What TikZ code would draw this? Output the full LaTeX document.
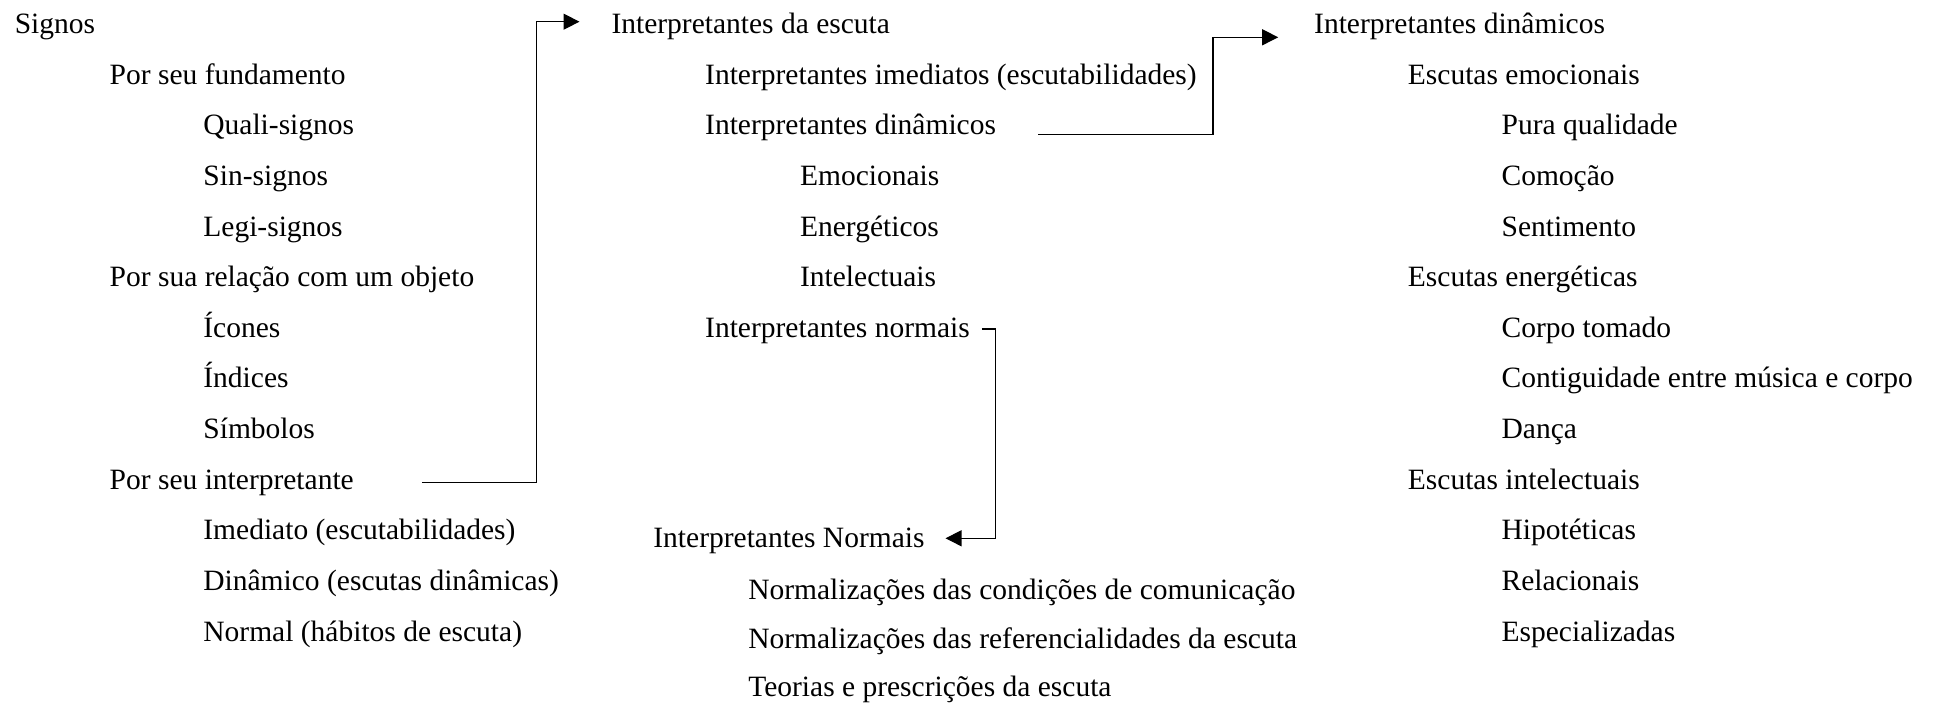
\documentclass[tikz,border=0pt]{standalone}
\usepackage{fontspec}
\setmainfont{Liberation Serif}
\usetikzlibrary{arrows.meta}
\begin{document}
\begin{tikzpicture}[x=0.5pt,y=-0.5pt,
  every node/.style={inner sep=0pt,outer sep=0pt,anchor=base west,font=\fontsize{14.75pt}{17pt}\selectfont},
  conn/.style={line width=0.6pt},
  arr/.style={conn,-{Triangle[length=8pt,width=8pt]}}]
\useasboundingbox (0,0) rectangle (1933,704);
% left column
\node (signos) at (14.8,33.5) {Signos};
\node (fund) at (109.7,84.1) {Por seu fundamento};
\node (quali) at (203.4,134.8) {Quali-signos};
\node (sin) at (203.4,185.4) {Sin-signos};
\node (legi) at (203.4,236.1) {Legi-signos};
\node (rel) at (109.7,286.7) {Por sua relação com um objeto};
\node (icones) at (203.4,337.3) {Ícones};
\node (indices) at (203.4,388) {Índices};
\node (simb) at (203.4,438.6) {Símbolos};
\node (pinterp) at (109.7,489.3) {Por seu interpretante};
\node (imed) at (203.4,539.9) {Imediato (escutabilidades)};
\node (din) at (203.4,590.5) {Dinâmico (escutas dinâmicas)};
\node (norm) at (203.4,641.2) {Normal (hábitos de escuta)};
% middle column
\node (ie) at (611.5,33.5) {Interpretantes da escuta};
\node (iim) at (705.2,84.1) {Interpretantes imediatos (escutabilidades)};
\node (idin) at (705.2,134.8) {Interpretantes dinâmicos};
\node (emoc) at (800.1,185.4) {Emocionais};
\node (energ) at (800.1,236.1) {Energéticos};
\node (intel) at (800.1,286.7) {Intelectuais};
\node (inorm) at (705.2,337.3) {Interpretantes normais};
\node (INorm) at (653.4,547.7) {Interpretantes Normais};
\node (nc) at (748.3,599.5) {Normalizações das condições de comunicação};
\node (nr) at (748.3,649) {Normalizações das referencialidades da escuta};
\node (teo) at (748.3,697) {Teorias e prescrições da escuta};
% right column
\node (rid) at (1314.2,33.5) {Interpretantes dinâmicos};
\node (eem) at (1407.9,84.1) {Escutas emocionais};
\node (pq) at (1501.6,134.8) {Pura qualidade};
\node (com) at (1501.6,185.4) {Comoção};
\node (sent) at (1501.6,236.1) {Sentimento};
\node (een) at (1407.9,286.7) {Escutas energéticas};
\node (ct) at (1501.6,337.3) {Corpo tomado};
\node (cont) at (1501.6,388) {Contiguidade entre música e corpo};
\node (danca) at (1501.6,438.6) {Dança};
\node (eint) at (1407.9,489.3) {Escutas intelectuais};
\node (hip) at (1501.6,539.9) {Hipotéticas};
\node (relac) at (1501.6,590.5) {Relacionais};
\node (esp) at (1501.6,641.2) {Especializadas};
% connectors
\coordinate (b1) at (536.5,0);
\coordinate (s1) at ([xshift=34pt,yshift=3.5pt]pinterp.base east);
\coordinate (e1) at ([xshift=-16pt,yshift=5.9pt]ie.base west);
\draw[arr] (s1) -| (b1 |- e1) -- (e1);
\coordinate (b2) at (1213,0);
\coordinate (s2) at ([xshift=21pt,yshift=0.2pt]idin.base east);
\coordinate (e2) at ([xshift=-18pt,yshift=-1.9pt]rid.base west);
\draw[arr] (s2) -| (b2 |- e2) -- (e2);
\coordinate (b3) at (995.7,0);
\coordinate (s3) at ([xshift=6pt,yshift=4.15pt]inorm.base east);
\coordinate (e3) at ([xshift=10.5pt,yshift=4.7pt]INorm.base east);
\draw[arr] (s3) -| (b3 |- e3) -- (e3);
\end{tikzpicture}
\end{document}
